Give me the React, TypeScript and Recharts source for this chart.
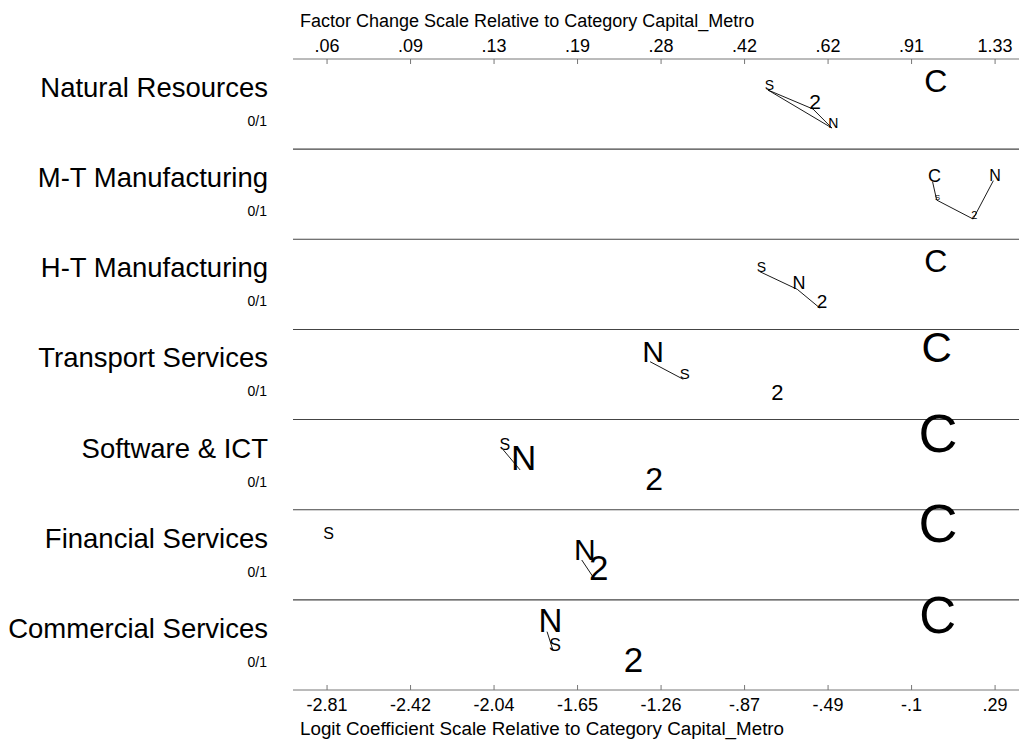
import React from "react";
import {
  ScatterChart, Scatter, XAxis, YAxis, ReferenceLine,
} from "recharts";

// rows of the plot (predictors), top to bottom
const panels = [
  "Natural Resources", "M-T Manufacturing", "H-T Manufacturing", "Transport Services",
  "Software & ICT", "Financial Services", "Commercial Services",
];
const panelSub = ["0/1", "0/1", "0/1", "0/1", "0/1", "0/1", "0/1"];

// logit coefficients relative to Capital_Metro (C is the base, so 0)
const coefC = [0, 0, 0, 0, 0, 0, 0];
const coefN = [-0.467, 0.282, -0.628, -1.311, -1.914, -1.628, -1.789];
const coefS = [-0.764, 0.019, -0.801, -1.157, -1.992, -2.81, -1.761];
const coef2 = [-0.555, 0.188, -0.522, -0.731, -1.307, -1.566, -1.404];

// vertical slot of each letter within its row (0 = top of row, 1 = bottom)
const levC = [0.363, 0.362, 0.363, 0.358, 0.362, 0.362, 0.37];
const levN = [0.766, 0.35, 0.555, 0.358, 0.559, 0.558, 0.353];
const levS = [0.344, 0.565, 0.36, 0.553, 0.337, 0.33, 0.563];
const lev2 = [0.555, 0.775, 0.765, 0.78, 0.781, 0.78, 0.796];

// letter size ~ size of discrete change
const sizeC = [32, 18, 32, 42, 54, 54, 51];
const sizeN = [14, 16, 18, 30, 35, 30, 33];
const sizeS = [14, 8, 14, 15, 16, 16, 18];
const size2 = [21, 11, 19, 22, 32, 35, 35];

// pairs joined by a line (not significantly different)
const links = [
  [["S", "2"], ["2", "N"], ["S", "N"]],
  [["C", "S"], ["S", "2"], ["2", "N"]],
  [["S", "N"], ["N", "2"]],
  [["N", "S"]],
  [["S", "N"]],
  [["N", "2"]],
  [["N", "S"]],
];

const logitTicks = [-2.81, -2.4225, -2.035, -1.6475, -1.26, -0.8725, -0.485, -0.0975, 0.29];
const logitLabels = ["-2.81", "-2.42", "-2.04", "-1.65", "-1.26", "-.87", "-.49", "-.1", ".29"];
const factorLabels = [".06", ".09", ".13", ".19", ".28", ".42", ".62", ".91", "1.33"];

const FONT = "'Liberation Sans', Arial, Helvetica, sans-serif";
const W = 1019, H = 740;
const xDomain = [-2.968, 0.401];

const cats: Record<string, { coef: number[]; lev: number[]; size: number[] }> = {
  C: { coef: coefC, lev: levC, size: sizeC },
  N: { coef: coefN, lev: levN, size: sizeN },
  S: { coef: coefS, lev: levS, size: sizeS },
  "2": { coef: coef2, lev: lev2, size: size2 },
};

const seriesFor = (k: string) =>
  panels.map((_, i) => ({ x: cats[k].coef[i], y: i + cats[k].lev[i], size: cats[k].size[i], label: k }));

const Letter = (p: any) => {
  const s = p.payload.size;
  return (
    <text x={p.cx + 0.1 * s} y={p.cy} textAnchor="middle" fontSize={s} fontFamily={FONT} fill="#000">
      {p.payload.label}
    </text>
  );
};

const BottomTick = ({ x, y, payload }: any) => (
  <g>
    <line x1={x} x2={x} y1={y} y2={y - 5} stroke="#777" />
    <text x={x} y={y + 21} textAnchor="middle" fontSize={18} fontFamily={FONT} fill="#000">
      {logitLabels[payload.index]}
    </text>
  </g>
);

const TopTick = ({ x, y, payload }: any) => (
  <g>
    <line x1={x} x2={x} y1={y} y2={y + 5} stroke="#777" />
    <text x={x} y={y - 7} textAnchor="middle" fontSize={18} fontFamily={FONT} fill="#000">
      {factorLabels[payload.index]}
    </text>
  </g>
);

const RowTick = ({ x, y, payload }: any) => (
  <g fontFamily={FONT} fill="#000" textAnchor="end">
    <text x={x - 25} y={y + 38} fontSize={27.5}>{panels[payload.value]}</text>
    <text x={x - 26} y={y + 67} fontSize={14}>{panelSub[payload.value]}</text>
  </g>
);

export default function App() {
  return (
    <div style={{ position: "absolute", left: 0, top: 0, width: W, height: H, background: "#fff" }}>
      <ScatterChart width={W} height={H} margin={{ top: 58, right: 0, bottom: 49, left: 292 }}>
        <XAxis
          xAxisId="bottom" orientation="bottom" type="number" dataKey="x"
          domain={xDomain} allowDataOverflow ticks={logitTicks} interval={0}
          height={1} tickSize={0} tickMargin={0} tick={<BottomTick />}
          axisLine={{ stroke: "#777" }} tickLine={false}
          label={() => (
            <text x={300} y={735} fontSize={18.8} fontFamily={FONT} fill="#000">
              Logit Coefficient Scale Relative to Category Capital_Metro
            </text>
          )}
        />
        <XAxis
          xAxisId="top" orientation="top" type="number" dataKey="x"
          domain={xDomain} allowDataOverflow ticks={logitTicks} interval={0}
          height={1} tickSize={0} tickMargin={0} tick={<TopTick />}
          axisLine={{ stroke: "#777" }} tickLine={false}
          label={() => (
            <text x={300} y={27} fontSize={18} fontFamily={FONT} fill="#000">
              Factor Change Scale Relative to Category Capital_Metro
            </text>
          )}
        />
        <YAxis
          yAxisId="row" type="number" dataKey="y" domain={[0, 7]} reversed
          ticks={[0, 1, 2, 3, 4, 5, 6]} interval={0} width={1}
          tickSize={0} tickMargin={0} axisLine={false} tickLine={false} tick={<RowTick />}
        />
        {[1, 2, 3, 4, 5, 6].map((v) => (
          <ReferenceLine key={v} xAxisId="bottom" yAxisId="row" y={v} stroke="#444" strokeWidth={1.1} />
        ))}
        {links.flatMap((row, i) =>
          row.map(([a, b], j) => (
            <ReferenceLine
              key={`${i}-${j}`} xAxisId="bottom" yAxisId="row" ifOverflow="visible"
              stroke="#000" strokeWidth={0.9}
              segment={[
                { x: cats[a].coef[i], y: i + cats[a].lev[i] },
                { x: cats[b].coef[i], y: i + cats[b].lev[i] },
              ]}
            />
          ))
        )}
        <Scatter xAxisId="top" yAxisId="row" data={seriesFor("C")} shape={<Letter />} isAnimationActive={false} />
        <Scatter xAxisId="bottom" yAxisId="row" data={seriesFor("N")} shape={<Letter />} isAnimationActive={false} />
        <Scatter xAxisId="bottom" yAxisId="row" data={seriesFor("S")} shape={<Letter />} isAnimationActive={false} />
        <Scatter xAxisId="bottom" yAxisId="row" data={seriesFor("2")} shape={<Letter />} isAnimationActive={false} />
      </ScatterChart>
    </div>
  );
}
